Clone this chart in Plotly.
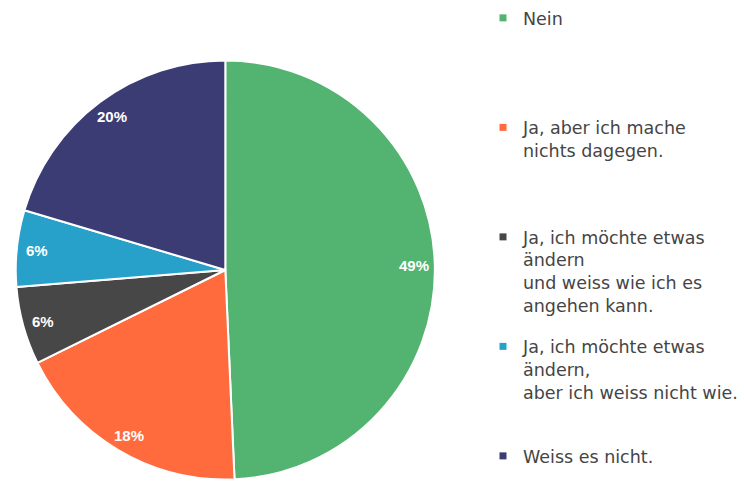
import math
import plotly.graph_objects as go

# ---- data ----
labels = [
    "Nein",
    "Ja, aber ich mache<br>nichts dagegen.",
    "Ja, ich möchte etwas<br>ändern<br>und weiss wie ich es<br>angehen kann.",
    "Ja, ich möchte etwas<br>ändern,<br>aber ich weiss nicht wie.",
    "Weiss es nicht.",
]
values = [49.3, 18.4, 6.0, 5.9, 20.4]
colors = ["#52B470", "#FF6B3D", "#474747", "#27A1C9", "#3C3C75"]

# ---- layout constants (pixels) ----
W, H = 744, 483
PIE_CX, PIE_CY, PIE_R = 229, 270, 213
LABEL_R = 192

fig = go.Figure()
fig.add_trace(
    go.Pie(
        labels=labels,
        values=values,
        sort=False,
        direction="clockwise",
        rotation=0,
        marker=dict(colors=colors, line=dict(color="white", width=2)),
        textinfo="none",
        domain=dict(
            x=[(PIE_CX - PIE_R) / W, (PIE_CX + PIE_R) / W],
            y=[max(0, 1 - (PIE_CY + PIE_R) / H), 1 - (PIE_CY - PIE_R) / H],
        ),
        showlegend=False,
        hoverinfo="label+percent",
    )
)

# legend entries (one group each so they can be spaced evenly)
max_lines = 4
for i, (lab, col) in enumerate(zip(labels, colors)):
    pad = 0 if i == len(labels) - 1 else (max_lines - 1 - lab.count("<br>"))
    fig.add_trace(
        go.Scatter(
            x=[None],
            y=[None],
            mode="markers",
            marker=dict(symbol="square", size=7, color=col),
            name=lab + "<br> " * pad,
            legendgroup=f"g{i}",
            showlegend=True,
            hoverinfo="skip",
        )
    )

# percent labels placed near the outer rim of each slice (derived from the values)
total = sum(values)
cum = 0.0
for v in values:
    mid = (cum + v / 2) / total * 2 * math.pi
    cum += v
    px = PIE_CX + LABEL_R * math.sin(mid)
    py = PIE_CY - LABEL_R * math.cos(mid)
    fig.add_annotation(
        x=px / W,
        y=1 - py / H,
        xref="paper",
        yref="paper",
        text=f"<b>{round(v / total * 100)}%</b>",
        showarrow=False,
        xanchor="center",
        yanchor="middle",
        font=dict(family="Liberation Sans, Arial, sans-serif", size=15, color="white"),
    )

fig.update_layout(
    width=W,
    height=H,
    margin=dict(l=0, r=0, t=0, b=0),
    paper_bgcolor="white",
    plot_bgcolor="white",
    xaxis=dict(visible=False),
    yaxis=dict(visible=False),
    showlegend=True,
    legend=dict(
        x=491 / W,
        xanchor="left",
        y=1,
        yanchor="top",
        valign="top",
        tracegroupgap=15.5,
        traceorder="grouped",
        font=dict(family="DejaVu Sans, sans-serif", size=17.5, color="#454545"),
        bgcolor="rgba(0,0,0,0)",
        borderwidth=0,
    ),
)

fig.write_html(
    "out.html",
    config={"displayModeBar": False},
    post_script="document.body.style.margin='0';document.body.style.overflow='hidden';",
)
